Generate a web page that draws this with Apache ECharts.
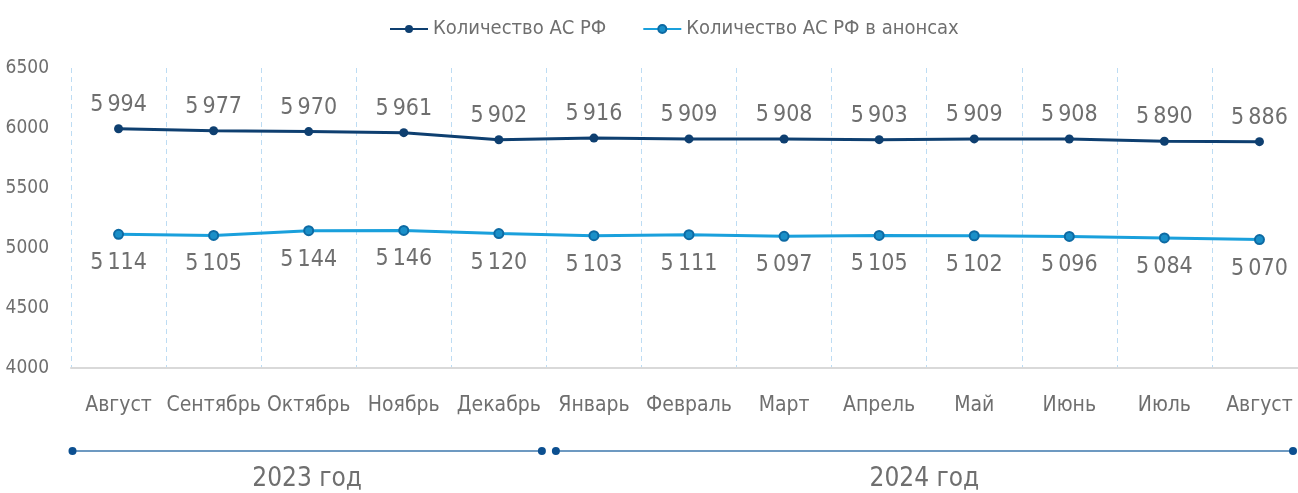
<!DOCTYPE html>
<html>
<head>
<meta charset="utf-8">
<script src="https://cdn.jsdelivr.net/npm/echarts@6/dist/echarts.min.js"></script>
<style>
  html, body { margin: 0; padding: 0; background: #fff; }
  #chart { width: 1298px; height: 493px; }
</style>
</head>
<body>
<div id="chart"></div>
<script>
  var months = ['Август', 'Сентябрь', 'Октябрь', 'Ноябрь', 'Декабрь', 'Январь', 'Февраль',
    'Март', 'Апрель', 'Май', 'Июнь', 'Июль', 'Август'];
  var totalAS = [5994, 5977, 5970, 5961, 5902, 5916, 5909, 5908, 5903, 5909, 5908, 5890, 5886];
  var announcedAS = [5114, 5105, 5144, 5146, 5120, 5103, 5111, 5097, 5105, 5102, 5096, 5084, 5070];
  var yTicks = [4000, 4500, 5000, 5500, 6000, 6500];
  // годы: индексы первого и последнего месяца
  var years = [
    {name: '2023 год', from: 0, to: 4},
    {name: '2024 год', from: 5, to: 12}
  ];

  var font = "'DejaVu Sans'";
  var narrow = 'condensed';
  var grey = '#6f6f6f';

  function fmt(p) {
    var s = String(p.value);
    return s.slice(0, s.length - 3) + '\u2009' + s.slice(-3);
  }

  var chart = echarts.init(document.getElementById('chart'));
  var option = {
    backgroundColor: '#ffffff',
    textStyle: {fontFamily: font},
    legend: {
      top: 14,
      left: 384,
      itemWidth: 38,
      itemHeight: 10,
      itemGap: 36,
      textStyle: {color: grey, fontSize: 20, fontFamily: font, fontWeight: narrow},
      data: ['Количество АС РФ', 'Количество АС РФ в анонсах']
    },
    grid: {left: 71, right: -9, top: 68, bottom: 125, outerBoundsMode: 'none', containLabel: false},
    xAxis: {
      type: 'category',
      data: months,
      boundaryGap: true,
      axisLine: {lineStyle: {color: '#d9d9d9', width: 2}},
      axisTick: {show: false},
      axisLabel: {color: grey, fontSize: 21, margin: 27, interval: 0, fontFamily: font, fontWeight: narrow},
      splitLine: {show: true, interval: 0, lineStyle: {color: '#bddcf3', type: [5, 4], width: 1}}
    },
    yAxis: {
      type: 'value',
      min: yTicks[0],
      max: yTicks[yTicks.length - 1],
      interval: yTicks[1] - yTicks[0],
      axisLine: {show: false},
      axisTick: {show: false},
      splitLine: {show: false},
      axisLabel: {color: grey, fontSize: 19, margin: 22, fontFamily: font, fontWeight: narrow,
        formatter: function (v) { return String(v); }}
    },
    series: [{
      name: 'Количество АС РФ',
      type: 'line',
      data: totalAS,
      symbol: 'circle',
      symbolSize: 9,
      lineStyle: {color: '#0e3f70', width: 3},
      itemStyle: {color: '#0e3f70'},
      label: {show: true, position: 'top', distance: 8, color: grey, fontSize: 23,
        fontFamily: font, fontWeight: narrow, formatter: fmt}
    }, {
      name: 'Количество АС РФ в анонсах',
      type: 'line',
      data: announcedAS,
      symbol: 'circle',
      symbolSize: 9,
      lineStyle: {color: '#1aa0dc', width: 3},
      itemStyle: {color: '#1a8fc8', borderColor: '#0d6aa3', borderWidth: 2},
      label: {show: true, position: 'bottom', distance: 12, color: grey, fontSize: 23,
        fontFamily: font, fontWeight: narrow, formatter: fmt}
    }]
  };
  chart.setOption(option);

  // подписи годов под осью
  var W = chart.getWidth();
  var band = chart.convertToPixel({xAxisIndex: 0}, 1) - chart.convertToPixel({xAxisIndex: 0}, 0);
  var lineY = 451;
  var graphics = [];
  years.forEach(function (y, i) {
    var x1 = chart.convertToPixel({xAxisIndex: 0}, y.from) - band / 2 + (i === 0 ? 1.5 : 9.5);
    var x2 = chart.convertToPixel({xAxisIndex: 0}, y.to) + band / 2 - 4.5;
    x2 = Math.min(x2, W - 5);
    graphics.push({type: 'line', shape: {x1: x1, y1: lineY, x2: x2, y2: lineY},
      style: {stroke: '#3d77ad', lineWidth: 1.5}, silent: true});
    graphics.push({type: 'circle', shape: {cx: x1, cy: lineY, r: 4}, style: {fill: '#0b4f90'}, silent: true});
    graphics.push({type: 'circle', shape: {cx: x2, cy: lineY, r: 4}, style: {fill: '#0b4f90'}, silent: true});
    graphics.push({type: 'text', x: (x1 + x2) / 2, y: 479,
      style: {text: y.name, fill: grey, fontSize: 26, fontFamily: font, fontWeight: narrow,
        align: 'center', verticalAlign: 'middle'}, silent: true});
  });
  chart.setOption({graphic: graphics});
</script>
</body>
</html>
